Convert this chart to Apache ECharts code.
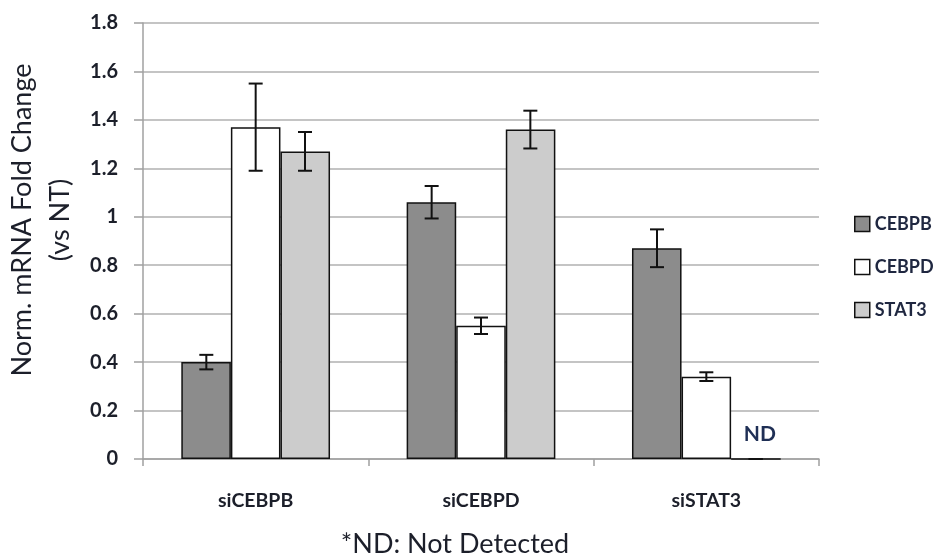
<!DOCTYPE html>
<html><head><meta charset="utf-8">
<script src="https://cdn.jsdelivr.net/npm/echarts@6/dist/echarts.min.js"></script>
<style>html,body{margin:0;padding:0;background:#fff}#c{width:945px;height:559px}</style>
</head><body><div id="c"></div>
<script>
const categories = ['siCEBPB', 'siCEBPD', 'siSTAT3'];
const seriesNames = ['CEBPB', 'CEBPD', 'STAT3'];
const cebpbValues = [0.40, 1.06, 0.87];
const cebpbErrors = [0.03, 0.067, 0.078];
const cebpdValues = [1.37, 0.55, 0.34];
const cebpdErrors = [0.18, 0.034, 0.018];
const stat3Values = [1.27, 1.36, 0];
const stat3Errors = [0.08, 0.078, 0];
const notDetected = [false, false, true];

const colors = ['#8c8c8c', '#ffffff', '#cccccc'];
const allValues = [cebpbValues, cebpdValues, stat3Values];
const allErrors = [cebpbErrors, cebpdErrors, stat3Errors];
const FONT = 'Lato';
const TXT = '#1c1f2a';
const BAR_FRAC = 0.219;

const chart = echarts.init(document.getElementById('c'));

const barSeries = seriesNames.map((name, s) => ({
  name, type: 'bar', barGap: '0%', barCategoryGap: '34%',
  itemStyle: { color: colors[s], borderColor: '#111', borderWidth: 1.5 },
  data: allValues[s].map((v, i) => notDetected[i] && s === 2 ? {
    value: v,
    label: { show: true, formatter: 'ND', position: 'top', distance: 14,
      fontFamily: FONT, fontSize: 21, fontWeight: 'bold', color: '#1f2f55', offset: [4, 0] }
  } : v),
  z: 2
}));

const errSeries = seriesNames.map((name, s) => ({
  type: 'custom', name: name + '_err', z: 5, silent: true,
  data: allValues[s].map((v, i) => [i, v, allErrors[s][i]]),
  renderItem: function (params, api) {
    const idx = api.value(0), v = api.value(1), e = api.value(2);
    const catW = api.size([1, 0])[0];
    const off = (s - 1) * catW * BAR_FRAC;
    const top = api.coord([idx, v + e]);
    const bot = api.coord([idx, v - e]);
    const x = top[0] + off;
    const cap = 7;
    const st = { stroke: '#111', lineWidth: 2 };
    return { type: 'group', children: [
      { type: 'line', shape: { x1: x, y1: top[1], x2: x, y2: bot[1] }, style: st },
      { type: 'line', shape: { x1: x - cap, y1: top[1], x2: x + cap, y2: top[1] }, style: st },
      { type: 'line', shape: { x1: x - cap, y1: bot[1], x2: x + cap, y2: bot[1] }, style: st }
    ]};
  }
}));

chart.setOption({
  animation: false,
  backgroundColor: '#fff',
  grid: { left: 143, right: 126, top: 23, bottom: 100, containLabel: false, outerBoundsMode: 'none' },
  legend: {
    data: seriesNames, orient: 'vertical', left: 854, top: 215, padding: 0,
    itemWidth: 15, itemHeight: 15, itemGap: 25, icon: 'rect',
    textStyle: { fontFamily: FONT, fontSize: 18, fontWeight: 'bold', color: '#1f2740' },
    itemStyle: { borderColor: '#111', borderWidth: 1.5 }
  },
  xAxis: {
    type: 'category', data: categories,
    name: '*ND: Not Detected', nameLocation: 'middle', nameGap: 72,
    nameTextStyle: { fontFamily: FONT, fontSize: 27, color: TXT, padding: [0, 52, 0, 0] },
    axisLine: { lineStyle: { color: '#a0a0a0', width: 1.5 } },
    axisTick: { show: true, length: 7, lineStyle: { color: '#a0a0a0', width: 1.5 } },
    axisLabel: { fontFamily: FONT, fontSize: 19.5, fontWeight: 'bold', color: TXT, margin: 32 }
  },
  yAxis: {
    type: 'value', min: 0, max: 1.8, interval: 0.2,
    name: 'Norm. mRNA Fold Change\n(vs NT)', nameLocation: 'middle', nameGap: 64, nameRotate: 90,
    nameTextStyle: { fontFamily: FONT, fontSize: 27, color: TXT, lineHeight: 38, padding: [0, 0, 0, 42] },
    axisLine: { show: true, lineStyle: { color: '#a0a0a0', width: 1.5 } },
    axisTick: { show: true, length: 9, inside: false, lineStyle: { color: '#a0a0a0', width: 1.5 } },
    splitLine: { lineStyle: { color: '#b0b0b0', width: 1.5 } },
    axisLabel: { fontFamily: FONT, fontSize: 20, fontWeight: 'bold', color: TXT, margin: 25,
      formatter: v => String(Math.round(v * 10) / 10) }
  },
  series: [...barSeries, ...errSeries]
});
</script></body></html>
